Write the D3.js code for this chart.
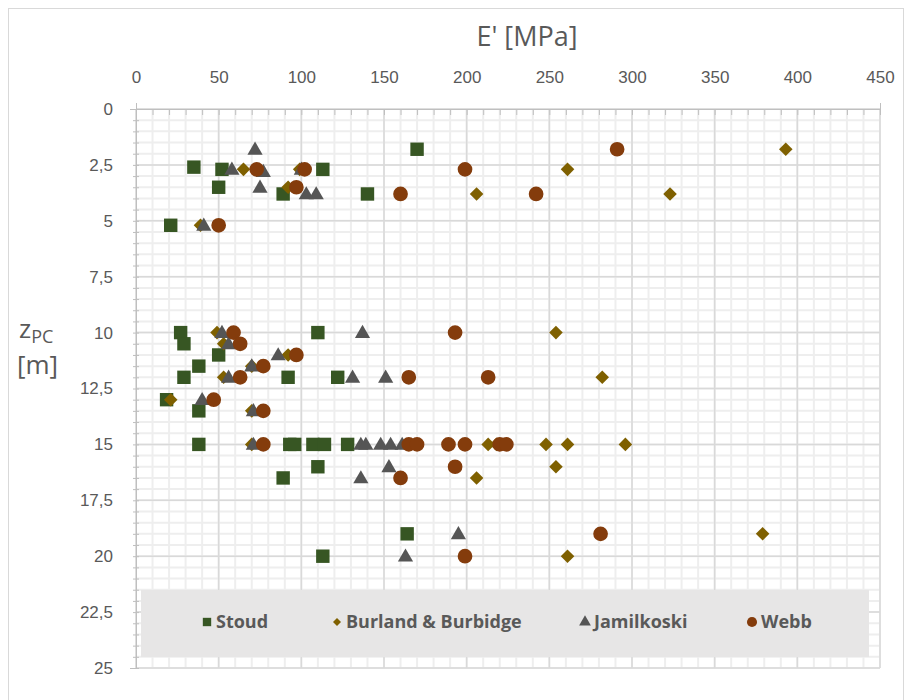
<!DOCTYPE html>
<html lang="en">
<head>
  <meta charset="UTF-8">
  <title>E' vs zPC</title>
  <script src="https://d3js.org/d3.v7.min.js"></script>
  <style>
    body {
      margin: 0;
      padding: 0;
      background-color: white;
      font-family: "Open Sans", sans-serif;
    }
    text {
      fill: #595959;
    }
  </style>
</head>
<body>
  <div id="chart"></div>

  <script>
    // values: [E' (MPa), zPC (m)]
    const stoud = [
      [170, 1.8], [35, 2.6], [52, 2.7], [113, 2.7], [50, 3.5], [89, 3.8], [140, 3.8],
      [21, 5.2], [27, 10], [110, 10], [29, 10.5], [50, 11], [38, 11.5], [29, 12],
      [92, 12], [122, 12], [18.5, 13], [38, 13.5], [38, 15], [93, 15], [96, 15],
      [107, 15], [114, 15], [128, 15], [110, 16], [89, 16.5], [164, 19], [113, 20]
    ];
    const burland = [
      [393, 1.8], [65, 2.7], [99, 2.7], [261, 2.7], [92, 3.5], [206, 3.8], [323, 3.8],
      [39, 5.2], [49, 10], [254, 10], [53, 10.5], [92, 11], [70, 11.5], [53, 12],
      [282, 12], [21, 13], [70, 13.5], [70, 15], [213, 15], [218, 15], [248, 15],
      [261, 15], [296, 15], [254, 16], [206, 16.5], [379, 19], [261, 20]
    ];
    const jamilkoski = [
      [72, 1.8], [58, 2.7], [77, 2.8], [100, 2.7], [75, 3.5], [103, 3.8], [109, 3.8],
      [41, 5.2], [52, 10], [137, 10], [56, 10.5], [86, 11], [70, 11.5], [56, 12],
      [131, 12], [151, 12], [40, 13], [71, 13.5], [71, 15], [136, 15], [139, 15],
      [148, 15], [154, 15], [161, 15], [153, 16], [136, 16.5], [195, 19], [163, 20]
    ];
    const webb = [
      [291, 1.8], [73, 2.7], [102, 2.7], [199, 2.7], [97, 3.5], [160, 3.8], [242, 3.8],
      [50, 5.2], [59, 10], [193, 10], [63, 10.5], [97, 11], [77, 11.5], [63, 12],
      [165, 12], [213, 12], [47, 13], [77, 13.5], [77, 15], [165, 15], [170, 15],
      [189, 15], [199, 15], [220, 15], [224, 15], [193, 16], [160, 16.5], [281, 19], [199, 20]
    ];

    const seriesNames = ["Stoud", "Burland & Burbidge", "Jamilkoski", "Webb"];
    const xTicks = [0, 50, 100, 150, 200, 250, 300, 350, 400, 450];
    const yTicks = [0, 2.5, 5, 7.5, 10, 12.5, 15, 17.5, 20, 22.5, 25];

    const width = 910;
    const height = 700;

    const series = [
      { name: seriesNames[0], data: stoud, shape: "square", color: "#375623" },
      { name: seriesNames[1], data: burland, shape: "diamond", color: "#7f6000" },
      { name: seriesNames[2], data: jamilkoski, shape: "triangle", color: "#555555" },
      { name: seriesNames[3], data: webb, shape: "circle", color: "#843c0c" }
    ];

    const svg = d3.select("#chart")
      .append("svg")
      .attr("width", width)
      .attr("height", height);

    // chart border
    svg.append("rect")
      .attr("x", 8.5).attr("y", 8.5)
      .attr("width", 895).attr("height", 720)
      .attr("fill", "white")
      .attr("stroke", "#d9d9d9");

    const x = d3.scaleLinear().domain([0, 450]).range([136, 880]);
    const y = d3.scaleLinear().domain([0, 25]).range([109, 668]);

    // minor grid
    const grid = svg.append("g");
    grid.selectAll(".vminor")
      .data(d3.range(0, 451, 10))
      .enter().append("line")
      .attr("x1", d => x(d)).attr("x2", d => x(d))
      .attr("y1", y(0)).attr("y2", y(25))
      .attr("stroke", "#eeeeee").attr("stroke-width", 2);
    grid.selectAll(".hminor")
      .data(d3.range(0, 51).map(d => d * 0.5))
      .enter().append("line")
      .attr("x1", x(0)).attr("x2", x(450))
      .attr("y1", d => y(d)).attr("y2", d => y(d))
      .attr("stroke", "#eeeeee").attr("stroke-width", 2);

    // major grid
    grid.selectAll(".vmajor")
      .data(xTicks)
      .enter().append("line")
      .attr("x1", d => x(d)).attr("x2", d => x(d))
      .attr("y1", y(0)).attr("y2", y(25))
      .attr("stroke", "#d9d9d9").attr("stroke-width", 1.5);
    grid.selectAll(".hmajor")
      .data(yTicks)
      .enter().append("line")
      .attr("x1", x(0)).attr("x2", x(450))
      .attr("y1", d => y(d)).attr("y2", d => y(d))
      .attr("stroke", "#d9d9d9").attr("stroke-width", 1.5);

    // axes (top and left)
    const xAxis = d3.axisTop(x)
      .tickValues(d3.range(0, 451, 10))
      .tickSize(6)
      .tickFormat(d => xTicks.includes(d) ? d : "");
    const gx = svg.append("g")
      .attr("transform", `translate(0,${y(0)})`)
      .call(xAxis);
    gx.selectAll(".tick line").attr("stroke", "#bfbfbf").attr("y2", 6).attr("y1", 0);
    gx.select(".domain").attr("stroke", "#bfbfbf");
    gx.selectAll("text")
      .attr("y", -26)
      .style("font-size", "17px")
      .style("font-family", "inherit")
      .attr("fill", "#595959");

    const yAxis = d3.axisLeft(y)
      .tickValues(d3.range(0, 51).map(d => d * 0.5))
      .tickSize(6)
      .tickFormat(d => yTicks.includes(d) ? String(d).replace(".", ",") : "");
    const gy = svg.append("g")
      .attr("transform", `translate(${x(0)},0)`)
      .call(yAxis);
    gy.selectAll(".tick line").attr("stroke", "#bfbfbf").attr("x1", -3).attr("x2", 3);
    gy.select(".domain").attr("stroke", "#bfbfbf");
    gy.selectAll("text")
      .attr("x", -23)
      .style("font-size", "17px")
      .style("font-family", "inherit")
      .attr("fill", "#595959");

    // titles
    svg.append("text")
      .attr("x", 527).attr("y", 46)
      .attr("text-anchor", "middle")
      .style("font-size", "27px")
      .text("E' [MPa]");

    const zt = svg.append("text")
      .attr("x", 19).attr("y", 338)
      .style("font-size", "26px");
    zt.append("tspan").text("z");
    zt.append("tspan").attr("dy", 5).style("font-size", "18px").text("PC");
    svg.append("text")
      .attr("x", 17).attr("y", 374)
      .style("font-size", "26px")
      .text("[m]");

    function symbolPath(shape) {
      if (shape === "square") return d3.symbol(d3.symbolSquare, 180)();
      if (shape === "diamond") return d3.symbol(d3.symbolSquare, 92)();
      if (shape === "triangle") return d3.symbol(d3.symbolTriangle, 100)();
      return d3.symbol(d3.symbolCircle, 170)();
    }

    // points
    series.forEach(s => {
      svg.append("g")
        .selectAll("path")
        .data(s.data)
        .enter().append("path")
        .attr("d", symbolPath(s.shape))
        .attr("transform", d => `translate(${x(d[0])},${y(d[1])})` + (s.shape === "diamond" ? " rotate(45)" : "") + (s.shape === "triangle" ? " translate(0,1)" : ""))
        .attr("fill", s.color);
    });

    // legend
    const legend = svg.append("g");
    legend.append("rect")
      .attr("x", 141).attr("y", 590)
      .attr("width", 728).attr("height", 67)
      .attr("fill", "#e7e6e6");

    const legendX = [207, 337, 585, 752];
    series.forEach((s, i) => {
      const small = { square: 70, diamond: 32, triangle: 60, circle: 80 }[s.shape];
      const sym = s.shape === "square" ? d3.symbolSquare : s.shape === "diamond" ? d3.symbolSquare
        : s.shape === "triangle" ? d3.symbolTriangle : d3.symbolCircle;
      legend.append("path")
        .attr("d", d3.symbol(sym, small)())
        .attr("transform", `translate(${legendX[i]},622)` + (s.shape === "diamond" ? " rotate(45)" : ""))
        .attr("fill", s.color);
      legend.append("text")
        .attr("x", legendX[i] + 9).attr("y", 628)
        .style("font-size", "18px")
        .style("font-weight", "bold")
        .text(s.name);
    });
  </script>
</body>
</html>
